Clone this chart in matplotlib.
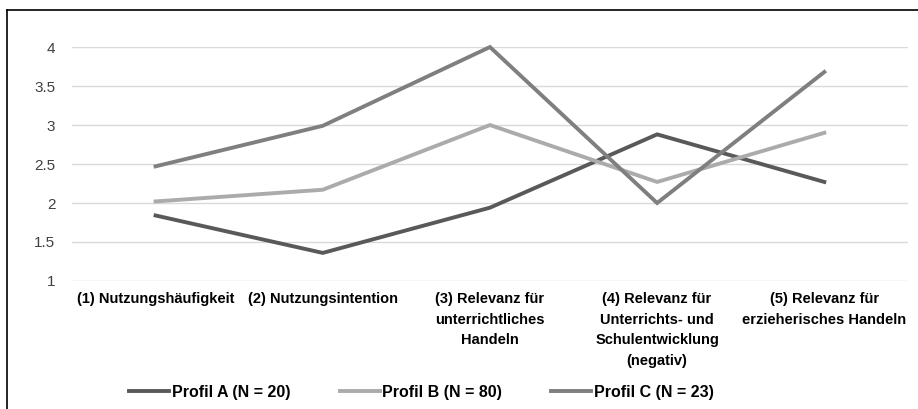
import matplotlib.pyplot as plt
from matplotlib.lines import Line2D
from matplotlib import font_manager

categories = ["(1) Nutzungshäufigkeit", "(2) Nutzungsintention",
              "(3) Relevanz für\nunterrichtliches\nHandeln",
              "(4) Relevanz für\nUnterrichts- und\nSchulentwicklung\n(negativ)",
              "(5) Relevanz für\nerzieherisches Handeln"]
profil_a = [1.84, 1.36, 1.94, 2.88, 2.27]
profil_b = [2.02, 2.17, 3.0, 2.27, 2.9]
profil_c = [2.47, 2.99, 4.0, 2.0, 3.68]
series_names = ["Profil A (N = 20)", "Profil B (N = 80)", "Profil C (N = 23)"]
yticks = [1, 1.5, 2, 2.5, 3, 3.5, 4]

installed = {f.name for f in font_manager.fontManager.ttflist}
if 'Liberation Sans Narrow' in installed:
    main_font = 'Liberation Sans Narrow'
    fs = 11.5
else:
    main_font = 'Liberation Sans'
    fs = 10.5
plt.rcParams['font.family'] = [main_font, 'DejaVu Sans']

fig = plt.figure(figsize=(9.18, 4.09), dpi=100)
ax = fig.add_axes([0.0784, 0.313, 0.9106, 0.572])

x = range(len(categories))
colors = ["#595959", "#ababab", "#7f7f7f"]
for vals, name, c in zip([profil_a, profil_b, profil_c], series_names, colors):
    ax.plot(x, vals, color=c, lw=2.8, label=name, clip_on=False, solid_joinstyle='miter')

ax.set_xlim(-0.5, len(categories) - 0.5)
ax.set_ylim(1, 4)
ax.set_yticks(yticks)
ax.set_yticklabels([f"{t:g}" for t in yticks], fontsize=fs + 0.5, color="#404040")
ax.set_xticks(list(x))
ax.set_xticklabels(categories, fontsize=fs, fontweight='bold', linespacing=1.6,
                   ma='center', va='top')
ax.tick_params(axis='both', length=0)
ax.tick_params(axis='x', pad=8)
ax.tick_params(axis='y', pad=12)
ax.grid(axis='y', color="#d9d9d9", lw=1)
ax.set_axisbelow(True)
for s in ax.spines.values():
    s.set_visible(False)

handles = [Line2D([0], [0], color=c, lw=2.8) for c in colors]
fig.legend(handles, series_names, loc='center', bbox_to_anchor=(0.459, 0.041),
           ncol=3, frameon=False, prop={'weight': 'bold', 'size': fs + 1},
           handlelength=2.5, handletextpad=0.15, columnspacing=3.1)

# outer frame (only top and left visible)
fig.add_artist(Line2D([7 / 918, 1], [1 - 10 / 409, 1 - 10 / 409], color="black", lw=1.2,
                      transform=fig.transFigure))
fig.add_artist(Line2D([7 / 918, 7 / 918], [0, 1 - 10 / 409], color="black", lw=1.2,
                      transform=fig.transFigure))

fig.savefig("out.png", dpi=100)
